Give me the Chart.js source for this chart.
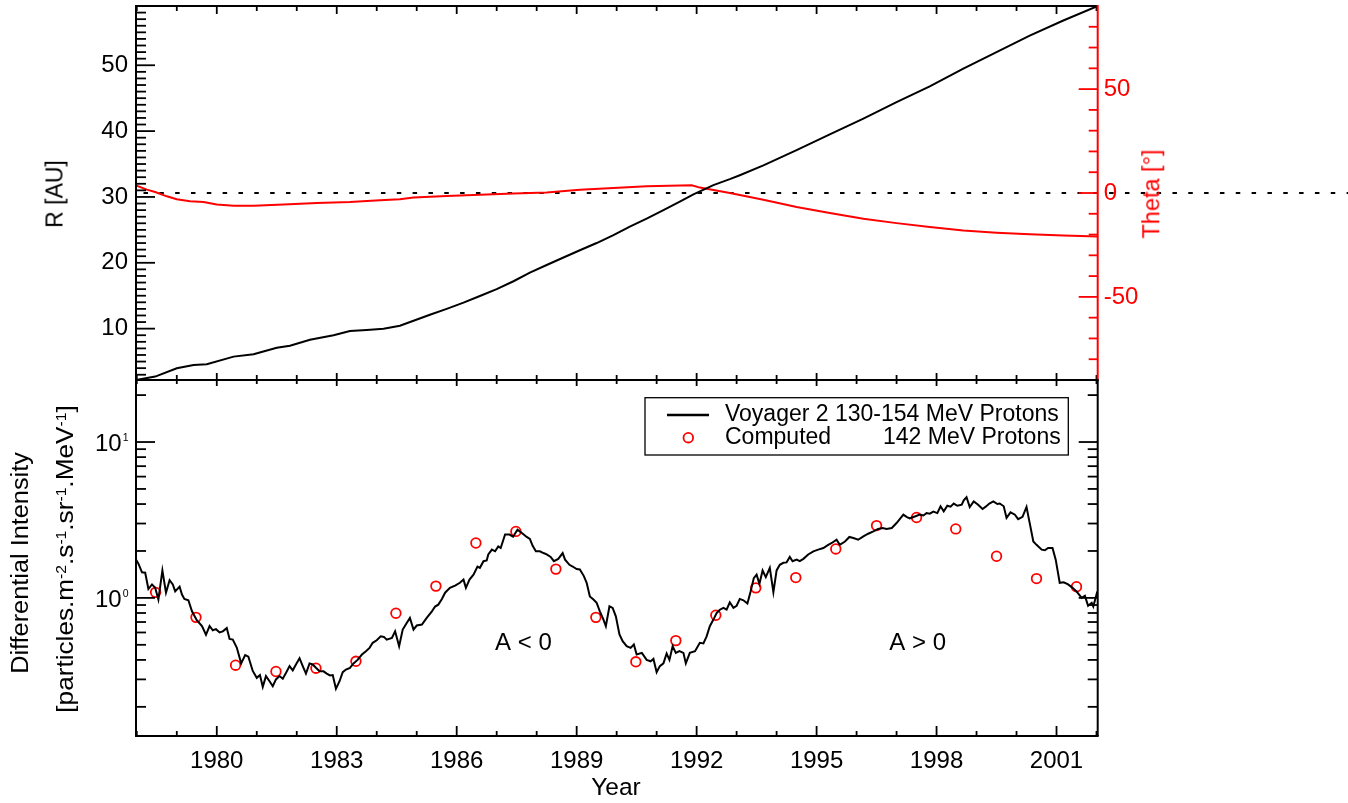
<!DOCTYPE html>
<html>
<head>
<meta charset="utf-8">
<script src="https://cdn.jsdelivr.net/npm/chart.js@4.4.0/dist/chart.umd.min.js"></script>
<style>
html,body{margin:0;padding:0;background:#fff;}
#wrap{position:relative;width:1348px;height:803px;overflow:hidden;background:#fff;font-family:"Liberation Sans",Arial,Helvetica,sans-serif;}
canvas{position:absolute;left:0;}
#c1{top:0;width:1348px;height:390px;}
#c2{top:370px;width:1348px;height:433px;}
.t{position:absolute;white-space:nowrap;color:#000;line-height:1;}
.rot{transform:translate(-50%,-50%) rotate(-90deg);}
sup{font-size:0.6em;line-height:0;position:relative;top:-0.5em;vertical-align:baseline;}
</style>
</head>
<body>
<div id="wrap">
<canvas id="c1" width="1348" height="390"></canvas>
<canvas id="c2" width="1348" height="433"></canvas>
<div class="t rot" style="left:54.7px;top:193.5px;font-size:23px;">R [AU]</div>
<div class="t rot" style="left:1151.8px;top:193.8px;font-size:23.5px;color:#ff0000;">Theta [°]</div>
<div class="t" style="left:19.7px;top:563.3px;font-size:23px;transform:translate(-50%,-50%) rotate(-90deg) scaleX(1.1);">Differential Intensity</div>
<div class="t" style="left:64.7px;top:559px;font-size:24px;transform:translate(-50%,-50%) rotate(-90deg) scaleX(1.09);">[particles.m<sup>-2</sup>.s<sup>-1</sup>.sr<sup>-1</sup>.MeV<sup>-1</sup>]</div>
<div class="t" style="left:616px;top:775px;font-size:24.5px;transform:translateX(-50%);">Year</div>
</div>
<script>
// ---------------- DATA ----------------
// Top panel: heliocentric distance R [AU]
const yearsR = [1977.98,1978.46,1979.0,1979.42,1979.75,1980.42,1980.92,1981.5,1981.83,1982.33,1982.92,1983.33,1983.75,1984.17,1984.58,1984.92,1985.33,1985.75,1986.17,1986.58,1987.0,1987.42,1987.83,1988.25,1988.67,1989.08,1989.5,1989.92,1990.33,1990.75,1991.17,1991.58,1991.92,1992.42,1992.83,1993.08,1993.67,1994.5,1995.33,1996.17,1997.0,1997.83,1998.67,1999.5,2000.33,2001.17,2002.03];
const rAU = [2.2,2.72,3.99,4.49,4.6,5.75,6.1,7.1,7.4,8.3,9.0,9.65,9.8,10.0,10.45,11.2,12.1,13.0,13.95,14.96,16.0,17.2,18.5,19.66,20.8,21.9,23.0,24.2,25.5,26.7,28.0,29.3,30.4,31.8,32.7,33.3,34.8,37.1,39.5,41.9,44.4,46.8,49.5,52.0,54.5,56.8,59.0];
// Top panel: heliolatitude Theta [deg]
const yearsTheta = [1977.98,1978.25,1978.46,1978.75,1979.0,1979.33,1979.67,1980.0,1980.42,1980.92,1981.67,1982.5,1983.33,1984.08,1984.58,1984.92,1985.75,1986.58,1987.42,1988.25,1989.08,1989.92,1990.75,1991.88,1992.08,1992.83,1993.67,1994.5,1995.33,1996.17,1997.0,1997.83,1998.67,1999.5,2000.33,2001.17,2002.03];
const thetaDeg = [3.7,1.6,0.5,-1.6,-3.0,-4.0,-4.3,-5.5,-6.1,-6.1,-5.5,-4.8,-4.3,-3.5,-3.0,-2.2,-1.4,-0.8,-0.3,0.2,1.6,2.4,3.2,3.7,2.6,0.0,-3.2,-6.75,-9.6,-12.4,-14.5,-16.4,-18.0,-19.1,-19.9,-20.4,-20.9];
// Bottom panel: Voyager 2 130-154 MeV protons
const yearsV2 = [1977.98,1978.04,1978.13,1978.21,1978.29,1978.38,1978.46,1978.54,1978.64,1978.73,1978.82,1978.90,1978.96,1979.07,1979.13,1979.19,1979.29,1979.38,1979.50,1979.63,1979.73,1979.82,1979.90,1979.98,1980.07,1980.15,1980.25,1980.32,1980.40,1980.50,1980.61,1980.71,1980.79,1980.90,1981.00,1981.08,1981.15,1981.23,1981.32,1981.40,1981.48,1981.57,1981.65,1981.73,1981.82,1981.90,1981.98,1982.07,1982.15,1982.23,1982.32,1982.40,1982.48,1982.57,1982.67,1982.75,1982.83,1982.90,1982.98,1983.07,1983.15,1983.23,1983.33,1983.42,1983.52,1983.63,1983.73,1983.82,1983.90,1984.00,1984.10,1984.18,1984.25,1984.38,1984.46,1984.56,1984.65,1984.75,1984.83,1984.92,1985.00,1985.13,1985.25,1985.38,1985.46,1985.54,1985.63,1985.71,1985.83,1985.96,1986.08,1986.17,1986.23,1986.32,1986.42,1986.52,1986.58,1986.67,1986.75,1986.79,1986.88,1986.96,1987.04,1987.10,1987.21,1987.32,1987.41,1987.52,1987.63,1987.75,1987.83,1987.90,1987.98,1988.08,1988.17,1988.25,1988.35,1988.43,1988.54,1988.65,1988.71,1988.82,1988.90,1989.00,1989.08,1989.18,1989.25,1989.33,1989.42,1989.50,1989.58,1989.67,1989.73,1989.82,1989.90,1989.98,1990.07,1990.15,1990.25,1990.35,1990.43,1990.50,1990.63,1990.75,1990.85,1990.92,1991.00,1991.08,1991.17,1991.25,1991.32,1991.40,1991.48,1991.57,1991.67,1991.73,1991.83,1991.96,1992.08,1992.17,1992.25,1992.33,1992.42,1992.50,1992.58,1992.67,1992.75,1992.83,1992.92,1993.00,1993.08,1993.17,1993.27,1993.35,1993.43,1993.50,1993.57,1993.65,1993.73,1993.83,1993.92,1994.00,1994.08,1994.17,1994.25,1994.33,1994.40,1994.50,1994.58,1994.67,1994.79,1994.92,1995.04,1995.17,1995.29,1995.38,1995.50,1995.58,1995.71,1995.82,1995.92,1996.04,1996.17,1996.29,1996.42,1996.54,1996.65,1996.75,1996.88,1997.00,1997.08,1997.17,1997.25,1997.33,1997.46,1997.58,1997.67,1997.75,1997.83,1997.92,1998.02,1998.10,1998.18,1998.27,1998.35,1998.43,1998.52,1998.63,1998.68,1998.75,1998.83,1998.93,1999.04,1999.15,1999.23,1999.32,1999.42,1999.52,1999.58,1999.68,1999.75,1999.85,1999.96,2000.04,2000.15,2000.25,2000.33,2000.42,2000.50,2000.63,2000.71,2000.79,2000.90,2000.98,2001.08,2001.18,2001.29,2001.40,2001.50,2001.63,2001.71,2001.79,2001.88,2001.92,2002.02];
const fluxV2 = [1.76,1.66,1.46,1.45,1.14,1.22,1.16,0.975,1.50,1.08,1.30,1.22,1.10,1.18,1.05,0.985,0.965,0.82,0.72,0.66,0.58,0.66,0.62,0.63,0.60,0.61,0.64,0.545,0.54,0.48,0.38,0.43,0.42,0.34,0.307,0.32,0.269,0.315,0.292,0.271,0.30,0.315,0.303,0.33,0.365,0.343,0.374,0.41,0.365,0.327,0.38,0.374,0.356,0.338,0.338,0.327,0.318,0.32,0.261,0.292,0.334,0.347,0.356,0.38,0.40,0.433,0.455,0.478,0.515,0.535,0.567,0.562,0.54,0.553,0.61,0.49,0.626,0.69,0.744,0.626,0.665,0.674,0.744,0.82,0.88,0.905,0.985,1.08,1.16,1.20,1.25,1.31,1.16,1.31,1.41,1.59,1.56,1.72,1.74,1.90,2.04,1.99,2.14,2.09,2.55,2.55,2.47,2.74,2.61,2.46,2.39,2.16,1.99,1.99,1.94,1.90,1.83,1.72,1.78,1.94,1.76,1.63,1.59,1.53,1.52,1.38,1.25,1.02,0.975,0.93,0.82,0.726,0.658,0.884,0.863,0.762,0.582,0.527,0.49,0.478,0.502,0.433,0.444,0.40,0.392,0.406,0.334,0.365,0.38,0.44,0.40,0.49,0.444,0.455,0.444,0.38,0.444,0.455,0.515,0.51,0.567,0.658,0.726,0.80,0.84,0.863,0.84,0.937,0.863,0.89,0.985,0.965,0.92,1.10,1.34,1.41,1.23,1.50,1.36,1.56,1.09,1.50,1.63,1.68,1.69,1.83,1.72,1.76,1.72,1.78,1.90,1.99,2.04,2.09,2.19,2.25,2.36,2.19,2.30,2.46,2.42,2.36,2.48,2.58,2.67,2.77,2.81,2.77,2.81,3.02,3.20,3.42,3.31,3.24,3.33,3.42,3.38,3.50,3.47,3.58,3.50,3.87,3.59,3.90,3.85,4.03,3.90,3.96,4.22,4.42,3.83,4.16,3.96,3.72,3.85,4.03,4.16,4.00,4.03,3.87,3.26,3.54,3.42,3.20,3.31,3.83,3.02,2.30,2.19,2.04,2.02,2.09,2.09,1.76,1.25,1.26,1.22,1.16,1.10,1.00,1.03,0.89,0.93,0.88,1.10];
// Bottom panel: computed 142 MeV protons
const yearsModel = [1978.47,1979.48,1980.47,1981.48,1982.48,1983.48,1984.48,1985.48,1986.48,1987.48,1988.48,1989.48,1990.48,1991.48,1992.48,1993.48,1994.48,1995.48,1996.5,1997.5,1998.48,1999.5,2000.5,2001.5];
const fluxModel = [1.085,0.75,0.37,0.337,0.354,0.392,0.797,1.19,2.25,2.67,1.53,0.75,0.389,0.532,0.774,1.16,1.35,2.06,2.91,3.28,2.77,1.85,1.33,1.18];
// Tick labels
const yearTicks = [1980,1983,1986,1989,1992,1995,1998,2001];
const rTicks = [10,20,30,40,50];
const thetaTicks = [-50,0,50];
const intensityTicks = [1,10];
const intensityLabels = [["10","0"],["10","1"]];
const legendLabels = ["Voyager 2 130-154 MeV Protons","Computed","142 MeV Protons"];
const cycleLabels = ["A < 0","A > 0"];
const cyclePos = [[1986.96,0.466],[1996.82,0.466]];

// ---------------- HELPERS ----------------
const FONT = '"Liberation Sans", Arial, Helvetica, sans-serif';
const RED = '#ff0000';
const X_MIN = 1977.98, X_MAX = 2002.03;
function seq(a,b,s){const r=[];for(let v=a;v<=b+1e-9;v+=s)r.push(Math.round(v*1e6)/1e6);return r;}
function pts(xs,ys){return xs.map((x,i)=>({x:x,y:ys[i]}));}
function seg(ctx,x1,y1,x2,y2){ctx.beginPath();ctx.moveTo(x1,y1);ctx.lineTo(x2,y2);ctx.stroke();}
function noPad(s){s.paddingTop=0;s.paddingBottom=0;s.paddingLeft=0;s.paddingRight=0;}
const yearMinor = seq(1978,2002,1).filter(v=>!yearTicks.includes(v));
const rMinor = seq(3,58,1).filter(v=>v%10!==0);
const thetaMinor = seq(-80,80,10).filter(v=>v%50!==0);
const logMinor = [0.2,0.3,0.4,0.5,0.6,0.7,0.8,0.9,2,3,4,5,6,7,8,9,20];

function xTicks(ctx,sx,a,edge,majLen,minLen){
  const y0 = edge==='top'?a.top:a.bottom, dir = edge==='top'?1:-1;
  yearTicks.forEach(v=>{const p=sx.getPixelForValue(v);seg(ctx,p,y0,p,y0+dir*majLen);});
  yearMinor.forEach(v=>{const p=sx.getPixelForValue(v);seg(ctx,p,y0,p,y0+dir*minLen);});
}
function yTicks(ctx,sy,a,edge,maj,minr,majLen,minLen){
  const x0 = edge==='left'?a.left:a.right, dir = edge==='left'?1:-1;
  maj.forEach(v=>{const p=sy.getPixelForValue(v);seg(ctx,x0,p,x0+dir*majLen,p);});
  minr.forEach(v=>{const p=sy.getPixelForValue(v);seg(ctx,x0,p,x0+dir*minLen,p);});
}

// ---------------- TOP CHART ----------------
const topPlugin = {
  id:'topFrame',
  beforeDatasetsDraw(chart){
    const {ctx,scales:{yT}} = chart;
    const y = yT.getPixelForValue(0);
    ctx.save();
    ctx.strokeStyle='#000';ctx.lineWidth=2;ctx.setLineDash([4.5,11.33]);
    seg(ctx,143.5,y,1348,y);
    ctx.restore();
  },
  afterDatasetsDraw(chart){
    const {ctx,chartArea:a,scales:{x,yR,yT}} = chart;
    ctx.save();
    ctx.lineCap='butt';ctx.lineWidth=2;ctx.strokeStyle='#000';
    seg(ctx,a.left-1,a.top,a.right,a.top);
    seg(ctx,a.left-1,a.bottom,a.right,a.bottom);
    seg(ctx,a.left,a.top,a.left,a.bottom);
    ctx.lineWidth=1.8;
    xTicks(ctx,x,a,'top',8,5);
    xTicks(ctx,x,a,'bottom',7,5);
    yTicks(ctx,yR,a,'left',rTicks,rMinor,19,10);
    ctx.strokeStyle=RED;ctx.lineWidth=2;
    seg(ctx,a.right,a.top-1,a.right,a.bottom);
    ctx.lineWidth=1.8;
    yTicks(ctx,yT,a,'right',thetaTicks,thetaMinor,19,9);
    ctx.restore();
  }
};

new Chart(document.getElementById('c1'),{
  type:'line',
  data:{datasets:[
    {label:'R [AU]',data:pts(yearsR,rAU),yAxisID:'yR',borderColor:'#000',borderWidth:2,pointRadius:0,tension:0,fill:false},
    {label:'Theta [°]',data:pts(yearsTheta,thetaDeg),yAxisID:'yT',borderColor:RED,borderWidth:2,pointRadius:0,tension:0,fill:false}
  ]},
  options:{
    responsive:false,animation:false,devicePixelRatio:1,
    layout:{padding:{top:6,bottom:10,left:0,right:0}},
    plugins:{legend:{display:false},tooltip:{enabled:false},title:{display:false}},
    scales:{
      x:{type:'linear',min:X_MIN,max:X_MAX,display:false},
      yR:{type:'linear',position:'left',min:2.2,max:59.0,bounds:'data',
        grid:{display:false,drawTicks:false},border:{display:false},
        ticks:{padding:8,color:'#000',font:{family:FONT,size:24},callback:v=>String(v)},
        afterBuildTicks:s=>{s.ticks=rTicks.map(v=>({value:v}));},
        afterFit:s=>{s.width=136;noPad(s);}},
      yT:{type:'linear',position:'right',min:-90,max:90,bounds:'data',
        grid:{display:false,drawTicks:false},border:{display:false},
        ticks:{padding:6,color:RED,font:{family:FONT,size:24},callback:v=>String(v)},
        afterBuildTicks:s=>{s.ticks=thetaTicks.map(v=>({value:v}));},
        afterFit:s=>{s.width=1348-1097.7;noPad(s);}}
    }
  },
  plugins:[topPlugin]
});

// ---------------- BOTTOM CHART ----------------
const OY = 370;
const botPlugin = {
  id:'botFrame',
  afterDatasetsDraw(chart){
    const {ctx,chartArea:a,scales:{x,y}} = chart;
    ctx.save();
    ctx.lineCap='butt';ctx.strokeStyle='#000';ctx.lineWidth=2;
    seg(ctx,a.left-1,a.top,a.right+1,a.top);
    seg(ctx,a.left-1,a.bottom,a.right+1,a.bottom);
    seg(ctx,a.left,a.top,a.left,a.bottom);
    seg(ctx,a.right,a.top,a.right,a.bottom);
    ctx.lineWidth=1.8;
    xTicks(ctx,x,a,'top',6,4);
    xTicks(ctx,x,a,'bottom',10,5);
    yTicks(ctx,y,a,'left',intensityTicks,logMinor,19,10);
    yTicks(ctx,y,a,'right',intensityTicks,logMinor,19,10);
    // log axis labels 10^n
    ctx.fillStyle='#000';ctx.textBaseline='alphabetic';
    intensityTicks.forEach((v,i)=>{
      const p = y.getPixelForValue(v);
      ctx.font='24px '+FONT;ctx.textAlign='right';
      ctx.fillText(intensityLabels[i][0],121.7,p+9.2);
      ctx.font='10.5px '+FONT;ctx.textAlign='left';
      ctx.fillText(intensityLabels[i][1],122.7,p-0.8);
    });
    // A<0 / A>0 annotations
    ctx.font='24px '+FONT;ctx.textAlign='left';
    cycleLabels.forEach((t,i)=>{
      ctx.fillText(t,x.getPixelForValue(cyclePos[i][0]),y.getPixelForValue(cyclePos[i][1]));
    });
    // legend
    ctx.lineWidth=1.3;ctx.strokeStyle='#000';
    ctx.strokeRect(645,397.7-OY,423.3,57.3);
    ctx.lineWidth=2.6;
    seg(ctx,667,415-OY,709,415-OY);
    ctx.beginPath();ctx.lineWidth=1.8;ctx.strokeStyle=RED;
    ctx.arc(688.3,437.7-OY,4.8,0,Math.PI*2);ctx.stroke();
    ctx.font='23px '+FONT;ctx.fillStyle='#000';ctx.textAlign='left';
    ctx.fillText(legendLabels[0],725,421-OY);
    ctx.fillText(legendLabels[1],725,444.3-OY);
    ctx.textAlign='right';
    ctx.fillText(legendLabels[2],1060.7,444.3-OY);
    ctx.restore();
  }
};

new Chart(document.getElementById('c2'),{
  type:'line',
  data:{datasets:[
    {label:'Voyager 2 130-154 MeV Protons',data:pts(yearsV2,fluxV2),borderColor:'#000',borderWidth:2,pointRadius:0,tension:0,fill:false},
    {label:'Computed 142 MeV Protons',data:pts(yearsModel,fluxModel),showLine:false,pointRadius:4.8,pointStyle:'circle',
      pointBorderColor:RED,pointBackgroundColor:'rgba(0,0,0,0)',pointBorderWidth:1.8,borderColor:RED}
  ]},
  options:{
    responsive:false,animation:false,devicePixelRatio:1,
    layout:{padding:{top:10,bottom:0,left:0,right:1348-1097.7}},
    plugins:{legend:{display:false},tooltip:{enabled:false},title:{display:false}},
    scales:{
      x:{type:'linear',position:'bottom',min:X_MIN,max:X_MAX,bounds:'data',
        grid:{display:false,drawTicks:false},border:{display:false},
        ticks:{padding:11,autoSkip:false,maxRotation:0,minRotation:0,color:'#000',font:{family:FONT,size:24},callback:v=>String(v)},
        afterBuildTicks:s=>{s.ticks=yearTicks.map(v=>({value:v}));},
        afterFit:s=>{s.height=803-736;noPad(s);}},
      y:{type:'logarithmic',position:'left',min:0.13,max:25,bounds:'data',
        grid:{display:false,drawTicks:false},border:{display:false},
        ticks:{display:false},
        afterFit:s=>{s.width=136;noPad(s);}}
    }
  },
  plugins:[botPlugin]
});
</script>
</body>
</html>
